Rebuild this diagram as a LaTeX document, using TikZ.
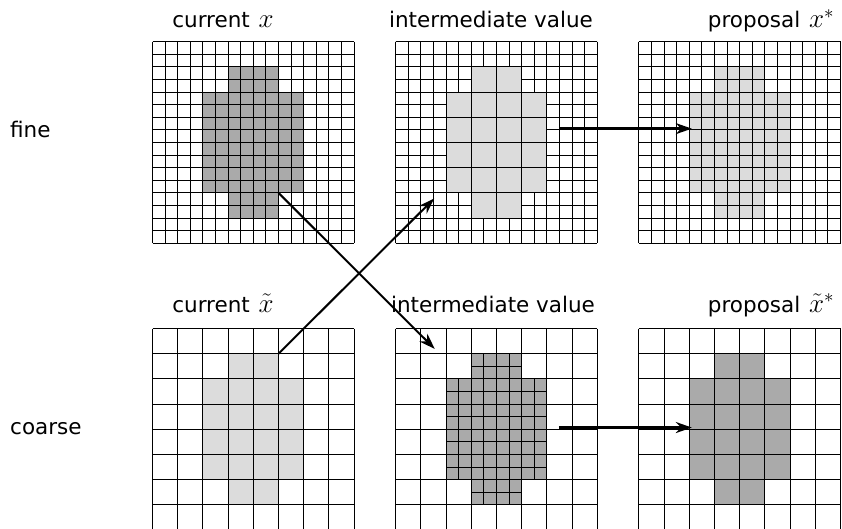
\RequirePackage{fix-cm}
\documentclass[tikz,border=0pt]{standalone}
\usepackage{fontspec}
\newfontfamily\lblfont{DejaVu Sans}
\usetikzlibrary{arrows.meta}
\definecolor{darkfill}{HTML}{AAAAAA}
\definecolor{lightfill}{HTML}{DCDCDC}
\newcommand\mth[1]{\hspace{2pt}{\fontsize{27}{30}\selectfont$#1$}}
\tikzset{
  gl/.style={line width=0.9pt, black},
  arr/.style={line width=2pt, black, -{Stealth[length=16pt,width=11pt]}},
  lbl/.style={font=\lblfont\fontsize{21.5}{26}\selectfont, inner sep=0pt, anchor=base},
}
\newcommand\finegrid{\foreach \i in {0,...,16}{\draw[gl] (\i,0)--(\i,16); \draw[gl] (0,\i)--(16,\i);}}
\newcommand\coarsegrid{\foreach \i in {0,2,...,16}{\draw[gl] (\i,0)--(\i,16); \draw[gl] (0,\i)--(16,\i);}}
\newcommand\blob[1]{\path[#1] (6,2)--(10,2)--(10,4)--(12,4)--(12,12)--(10,12)--(10,14)--(6,14)--(6,12)--(4,12)--(4,4)--(6,4)--cycle;}
\tikzset{gridA/.style={shift={(152.5pt,-41.7pt)},x=12.6pt,y=-12.6pt},
         gridB/.style={shift={(395.7pt,-41.7pt)},x=12.6pt,y=-12.6pt},
         gridC/.style={shift={(638.9pt,-41.7pt)},x=12.6pt,y=-12.6pt},
         gridD/.style={shift={(152.5pt,-328.5pt)},x=12.6pt,y=-12.6pt},
         gridE/.style={shift={(395.7pt,-328.5pt)},x=12.6pt,y=-12.6pt},
         gridF/.style={shift={(638.9pt,-328.5pt)},x=12.6pt,y=-12.6pt}}
\begin{document}
\begin{tikzpicture}[x=1pt,y=-1pt]
\useasboundingbox (0,0) rectangle (842,529);
\clip (0,0) rectangle (842,529);
% fine: current x
\begin{scope}[gridA]
  \blob{fill=darkfill}
  \finegrid
  \coordinate (s1) at (10,12);
\end{scope}
% fine: intermediate value
\begin{scope}[gridB]
  \finegrid
  \blob{fill=lightfill}
  \coarsegrid
  \coordinate (e2) at (3.05,12.45);
  \coordinate (s3) at (12.95,6.9);
\end{scope}
% fine: proposal
\begin{scope}[gridC]
  \blob{fill=lightfill}
  \finegrid
  \coordinate (e3) at (4.2,6.9);
\end{scope}
% coarse: current
\begin{scope}[gridD]
  \blob{fill=lightfill}
  \coarsegrid
  \coordinate (s2) at (10,2);
\end{scope}
% coarse: intermediate value
\begin{scope}[gridE]
  \blob{fill=darkfill}
  \begin{scope}
    \clip (6,2)--(10,2)--(10,4)--(12,4)--(12,12)--(10,12)--(10,14)--(6,14)--(6,12)--(4,12)--(4,4)--(6,4)--cycle;
    \finegrid
  \end{scope}
  \coarsegrid
  \coordinate (e1) at (3.1,1.62);
  \coordinate (s4) at (12.95,7.86);
\end{scope}
% coarse: proposal
\begin{scope}[gridF]
  \blob{fill=darkfill}
  \coarsegrid
  \coordinate (e4) at (4.2,7.86);
\end{scope}
% labels
\node[lbl] (t1) at (223,28) {current \mth{x}};
\node[lbl] (t2) at (491,28) {intermediate value};
\node[lbl] (t3) at (771,28) {proposal \mth{x^*}};
\node[lbl] (b1) at (223,312) {current \mth{\tilde{x}}};
\node[lbl] (b2) at (493,312) {intermediate value};
\node[lbl] (b3) at (771,312) {proposal \mth{\tilde{x}^*}};
\node[lbl, anchor=base west] (fine) at (10,138) {fine};
\node[lbl, anchor=base west] (coarse) at (10,434) {coarse};
% arrows
\draw[arr] (s1) -- (e1);
\draw[arr] (s2) -- (e2);
\draw[arr, line width=2.5pt] (s3) -- (e3);
\draw[arr, line width=2.5pt] (s4) -- (e4);
\end{tikzpicture}
\end{document}
